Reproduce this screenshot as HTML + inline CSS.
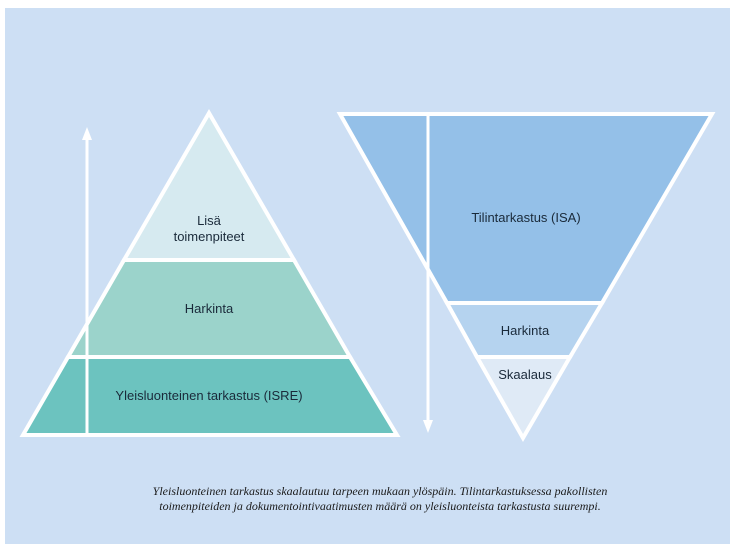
<!DOCTYPE html>
<html><head><meta charset="utf-8"><style>
html,body{margin:0;padding:0;background:#fff;width:736px;height:552px;overflow:hidden}
svg{display:block}
</style></head><body>
<svg width="736" height="552" viewBox="0 0 736 552" xmlns="http://www.w3.org/2000/svg">
<rect x="5" y="8" width="725" height="536" fill="#cddff4"/>
<g stroke="#fff" stroke-width="4" stroke-linejoin="miter">
<polygon points="209,113 124,260 294,260" fill="#d6eaf0"/>
<polygon points="124,260 294,260 350,357 68,357" fill="#9bd3cb"/>
<polygon points="68,357 350,357 397,435 23,435" fill="#6cc3bf"/>
<polygon points="340,114 712,114 602,303 447,303" fill="#94c0e8"/>
<polygon points="447,303 602,303 570,357 477,357" fill="#b5d3ef"/>
<polygon points="477,357 570,357 523,438" fill="#dfeaf6"/>
</g>
<line x1="87" y1="138" x2="87" y2="435" stroke="#fff" stroke-width="3"/>
<polygon points="87,127 82,140 92,140" fill="#fff"/>
<line x1="428" y1="114" x2="428" y2="422" stroke="#fff" stroke-width="3"/>
<polygon points="428,433 423,420 433,420" fill="#fff"/>
<g font-family="Liberation Sans, sans-serif" font-size="13" fill="#1a2a3a" text-anchor="middle">
<text x="209" y="225">Lisä</text>
<text x="209" y="241">toimenpiteet</text>
<text x="209" y="313">Harkinta</text>
<text x="209" y="400">Yleisluonteinen tarkastus (ISRE)</text>
<text x="526" y="222">Tilintarkastus (ISA)</text>
<text x="525" y="335">Harkinta</text>
<text x="525" y="379">Skaalaus</text>
</g>
<g font-family="Liberation Serif, serif" font-style="italic" font-size="12" fill="#1a1a1a" text-anchor="middle">
<text x="380" y="495">Yleisluonteinen tarkastus skaalautuu tarpeen mukaan ylöspäin. Tilintarkastuksessa pakollisten</text>
<text x="380" y="510">toimenpiteiden ja dokumentointivaatimusten määrä on yleisluonteista tarkastusta suurempi.</text>
</g>
</svg>
</body></html>
